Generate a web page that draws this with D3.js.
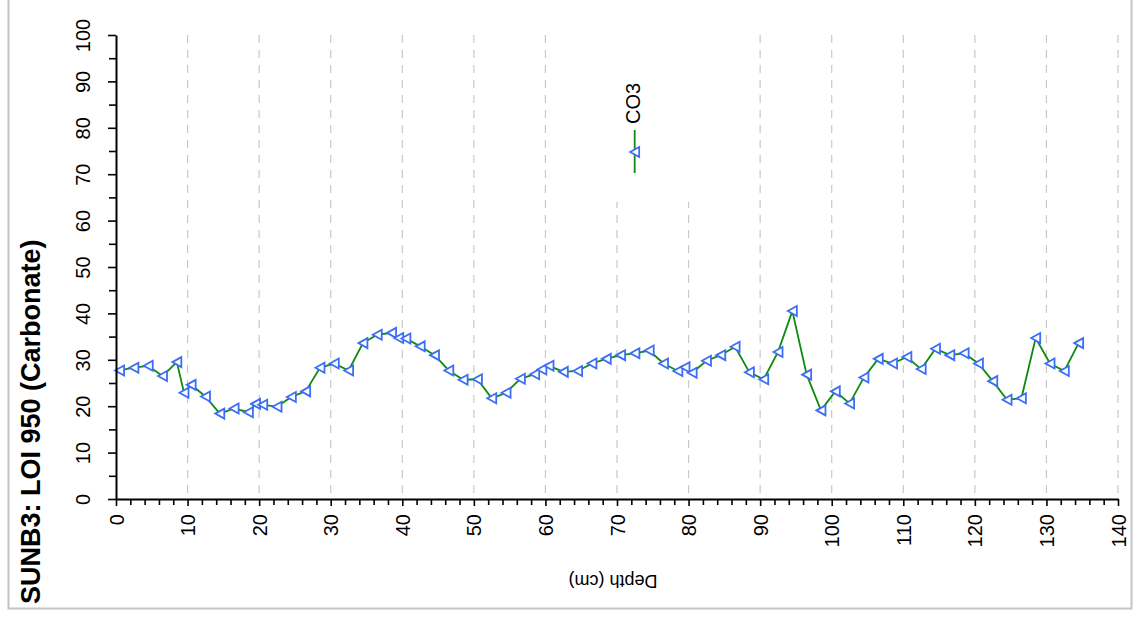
<!DOCTYPE html>
<html>
<head>
<meta charset="utf-8">
<script src="https://cdn.jsdelivr.net/npm/d3@7"></script>
<style>
  body { margin: 0; background: #fff; }
  svg { display: block; font-family: "Liberation Sans", Arial, sans-serif; }
</style>
</head>
<body>
<div id="chart"></div>
<script>
// depth (cm) and carbonate LOI 950 values
const depths = [
    0.5, 2.5, 4.5, 6.5, 8.5, 9.5, 10.5, 12.5, 14.5, 16.5, 18.5,
    19.5, 20.5, 22.5, 24.5, 26.5, 28.5, 30.5, 32.5, 34.5, 36.5, 38.5,
    39.5, 40.5, 42.5, 44.5, 46.5, 48.5, 50.5, 52.5, 54.5, 56.5, 58.5,
    59.5, 60.5, 62.5, 64.5, 66.5, 68.5, 70.5, 72.5, 74.5, 76.5, 78.5,
    79.5, 80.5, 82.5, 84.5, 86.5, 88.5, 90.5, 92.5, 94.5, 96.5, 98.5,
    100.5, 102.5, 104.5, 106.5, 108.5, 110.5, 112.5, 114.5, 116.5, 118.5, 120.5,
    122.5, 124.5, 126.5, 128.5, 130.5, 132.5, 134.5
];
const co3 = [
    27.7, 28.3, 28.7, 26.5, 29.5, 22.9, 24.6, 22.1, 18.4, 19.5, 18.7,
    20.5, 20.3, 19.9, 22.0, 23.2, 28.3, 29.2, 27.7, 33.6, 35.4, 35.8,
    34.7, 34.6, 32.9, 31.0, 27.7, 25.7, 25.8, 21.7, 22.9, 25.9, 26.9,
    27.9, 28.7, 27.4, 27.6, 29.2, 30.2, 31.0, 31.4, 32.0, 29.2, 27.6,
    28.4, 27.2, 29.8, 31.0, 32.8, 27.3, 25.8, 31.7, 40.5, 26.8, 19.1,
    23.2, 20.6, 26.2, 30.2, 29.2, 30.6, 28.0, 32.4, 31.0, 31.4, 29.2,
    25.4, 21.4, 21.7, 34.7, 29.2, 27.6, 33.6
];
const xTicks = [0, 10, 20, 30, 40, 50, 60, 70, 80, 90, 100, 110, 120, 130, 140];
const xMinor = [2, 4, 6, 8, 12, 14, 16, 18, 22, 24, 26, 28, 32, 34, 36, 38, 42, 44, 46, 48,
    52, 54, 56, 58, 62, 64, 66, 68, 72, 74, 76, 78, 82, 84, 86, 88, 92, 94, 96, 98,
    102, 104, 106, 108, 112, 114, 116, 118, 122, 124, 126, 128, 132, 134, 136, 138];
const yTicks = [0, 10, 20, 30, 40, 50, 60, 70, 80, 90, 100];
const yMinor = [5, 15, 25, 35, 45, 55, 65, 75, 85, 95];
const seriesName = 'CO3';

const width = 1144;
const height = 619;
const margin = { top: 35, right: 26, bottom: 120, left: 116 };

const svg = d3.select('#chart')
    .append('svg')
    .attr('width', width)
    .attr('height', height);

// outer frame
svg.append('rect')
    .attr('x', 8.5).attr('y', -2)
    .attr('width', 1123).attr('height', 610.5)
    .attr('fill', 'none')
    .attr('stroke', '#c4c4c4')
    .attr('stroke-width', 2);

const x = d3.scaleLinear()
    .domain([0, 140])
    .range([margin.left, width - margin.right]);

const y = d3.scaleLinear()
    .domain([0, 100])
    .range([height - margin.bottom, margin.top]);

// dashed vertical grid
svg.append('g')
    .selectAll('line')
    .data(xTicks.filter(d => d > 0))
    .enter().append('line')
    .attr('x1', d => x(d)).attr('x2', d => x(d))
    .attr('y1', y(100)).attr('y2', y(0))
    .attr('stroke', '#c8c8c8')
    .attr('stroke-width', 1.2)
    .attr('stroke-dasharray', '8,7');

// legend box sits over the grid
const lx = x(72.4);
svg.append('rect')
    .attr('x', lx - 40).attr('y', y(100) - 2)
    .attr('width', 110).attr('height', 202 - y(100) + 2)
    .attr('fill', '#fff');

const line = d3.line()
    .x((d, i) => x(depths[i]))
    .y(d => y(d));

svg.append('path')
    .datum(co3)
    .attr('fill', 'none')
    .attr('stroke', '#108a10')
    .attr('stroke-width', 1.8)
    .attr('d', line);

const tri = 'M-4.5,0L4.5,-5L4.5,5Z';
svg.append('g')
    .selectAll('path')
    .data(co3)
    .enter().append('path')
    .attr('d', tri)
    .attr('transform', (d, i) => `translate(${x(depths[i])},${y(d)})`)
    .attr('fill', '#fff')
    .attr('stroke', '#3b6ef5')
    .attr('stroke-width', 1.8);

// axes
const axisStyle = g => {
    g.select('.domain').attr('stroke', '#000').attr('stroke-width', 2);
    g.selectAll('.tick line').attr('stroke', '#000').attr('stroke-width', 1.6);
};

const yAxis = svg.append('g')
    .attr('transform', `translate(${margin.left},0)`)
    .call(d3.axisLeft(y).tickValues(yTicks).tickSize(8).tickSizeOuter(0))
    .call(axisStyle);
yAxis.selectAll('.tick text')
    .attr('x', null).attr('dy', null)
    .attr('transform', 'translate(-26,0) rotate(-90)')
    .attr('text-anchor', 'middle')
    .attr('fill', '#000')
    .style('font-size', '20px');

svg.append('g')
    .attr('transform', `translate(${margin.left},0)`)
    .call(d3.axisLeft(y).tickValues(yMinor).tickSize(7).tickFormat(''))
    .call(g => g.select('.domain').remove())
    .call(axisStyle);

const xAxis = svg.append('g')
    .attr('transform', `translate(0,${y(0)})`)
    .call(d3.axisBottom(x).tickValues(xTicks).tickSize(7).tickSizeOuter(0))
    .call(axisStyle);
xAxis.selectAll('.tick text')
    .attr('y', null).attr('dy', null)
    .attr('transform', 'translate(7,15) rotate(-90)')
    .attr('text-anchor', 'end')
    .attr('fill', '#000')
    .style('font-size', '20px');

svg.append('g')
    .attr('transform', `translate(0,${y(0)})`)
    .call(d3.axisBottom(x).tickValues(xMinor).tickSize(6).tickFormat(''))
    .call(g => g.select('.domain').remove())
    .call(axisStyle);

// axis titles
svg.append('text')
    .attr('transform', 'translate(40,604) rotate(-90)')
    .attr('text-anchor', 'start')
    .style('font-size', '27px')
    .style('font-weight', 'bold')
    .text('SUNB3: LOI 950 (Carbonate)');

svg.append('text')
    .attr('transform', `translate(${(x(0) + x(140)) / 2 - 4},575) rotate(180)`)
    .attr('text-anchor', 'middle')
    .style('font-size', '18px')
    .text('Depth (cm)');

// legend
svg.append('line')
    .attr('x1', lx + 0.5).attr('x2', lx + 0.5)
    .attr('y1', 130).attr('y2', 173)
    .attr('stroke', '#108a10')
    .attr('stroke-width', 1.8);
svg.append('path')
    .attr('d', tri)
    .attr('transform', `translate(${lx + 0.5},152)`)
    .attr('fill', '#fff')
    .attr('stroke', '#3b6ef5')
    .attr('stroke-width', 1.8);
svg.append('text')
    .attr('transform', `translate(${lx + 6},124) rotate(-90)`)
    .attr('text-anchor', 'start')
    .style('font-size', '20px')
    .text(seriesName);
</script>
</body>
</html>
